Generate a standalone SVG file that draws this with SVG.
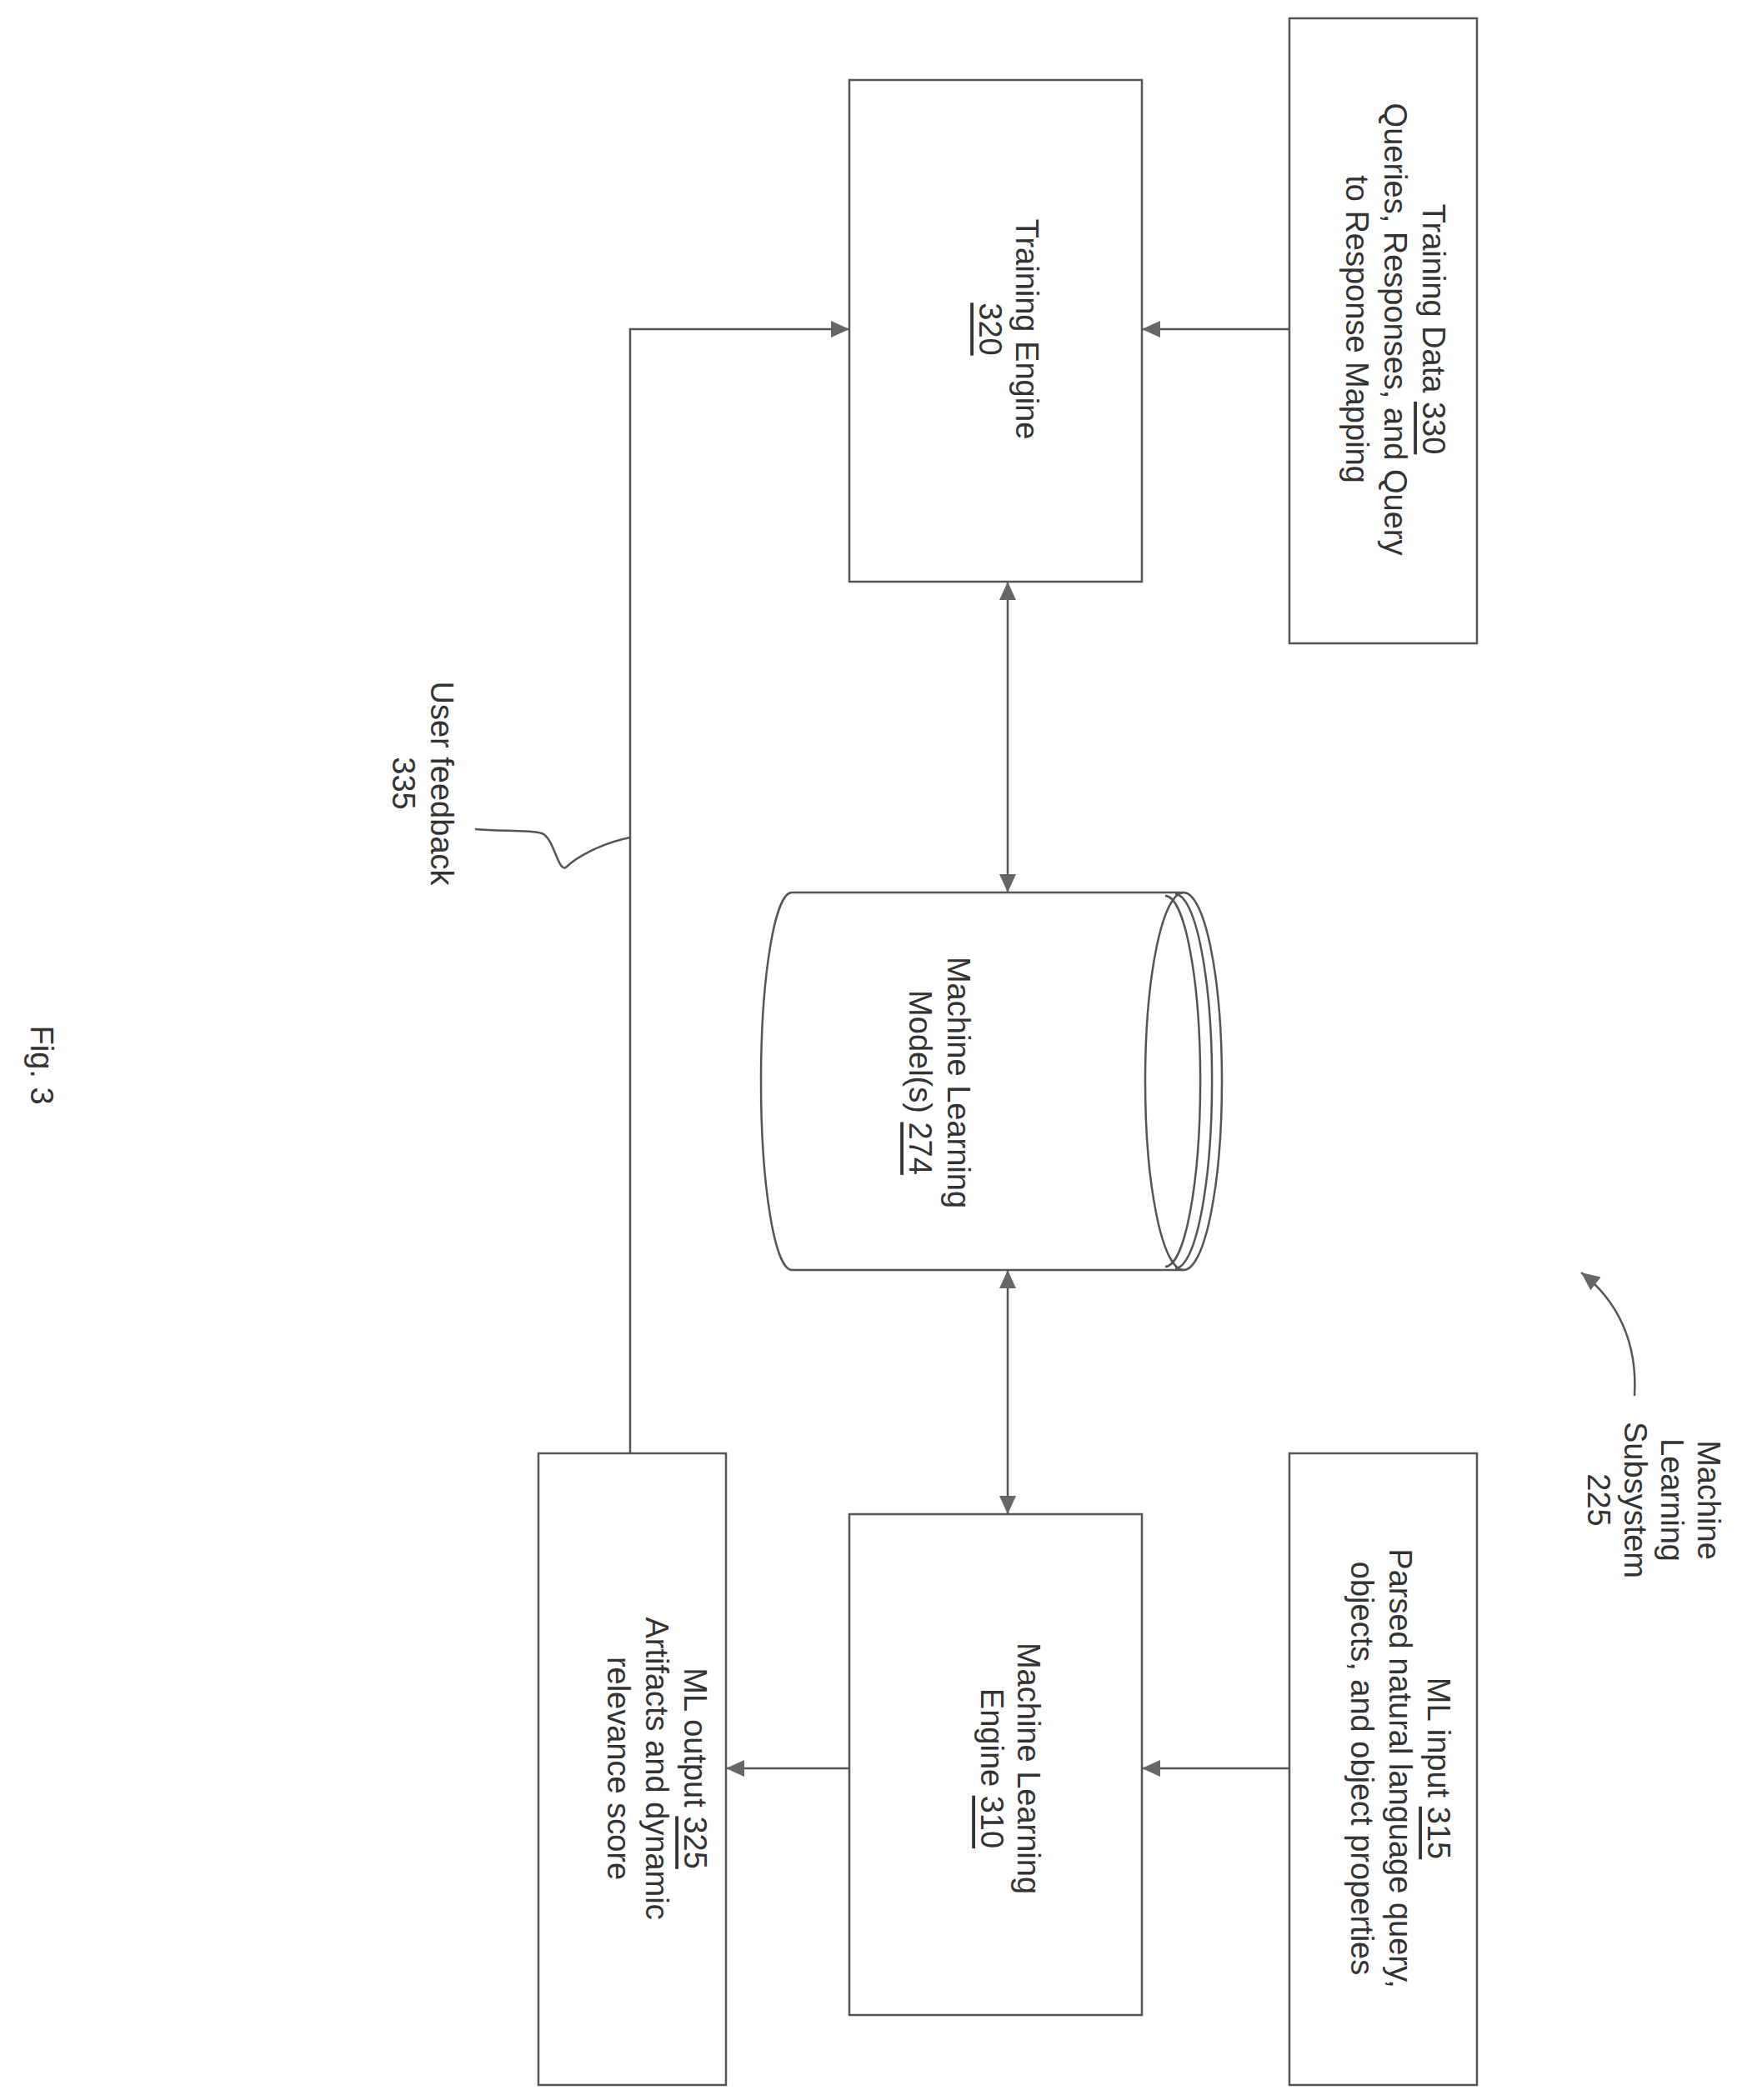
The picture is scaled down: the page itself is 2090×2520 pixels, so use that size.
<svg xmlns="http://www.w3.org/2000/svg" width="2090" height="2520" viewBox="0 0 2090 2520">
<style>
.b{fill:none;stroke:#555;stroke-width:2.5}
.c{fill:none;stroke:#555;stroke-width:2.5}
.t{font-family:"Liberation Sans",Arial,sans-serif;font-size:38px;fill:#333;text-anchor:middle;dominant-baseline:central}
.u{text-decoration:underline}
</style>
<defs>
<marker id="a" viewBox="0 0 10 10" refX="10" refY="5" markerWidth="10" markerHeight="10" markerUnits="userSpaceOnUse" orient="auto-start-reverse" overflow="visible">
<path d="M-12,-5 L10,5 L-12,15 Z" fill="#666"/>
</marker>
</defs>
<rect width="2090" height="2520" fill="#fff"/>
<g id="connectors">
<line class="c" x1="1547" y1="395" x2="1370" y2="395" marker-end="url(#a)"/>
<polyline class="c" points="756,1744 756,395 1019,395" marker-end="url(#a)"/>
<line class="c" x1="1209" y1="698" x2="1209" y2="1071" marker-start="url(#a)" marker-end="url(#a)"/>
<line class="c" x1="1209" y1="1524" x2="1209" y2="1817" marker-start="url(#a)" marker-end="url(#a)"/>
<line class="c" x1="1547" y1="2122" x2="1370" y2="2122" marker-end="url(#a)"/>
<line class="c" x1="1019" y1="2122" x2="871" y2="2122" marker-end="url(#a)"/>
<path class="c" d="M756,1005 C720,1012 690,1030 680,1040 C670,1050 665,1005 650,1000 C635,995 600,998 570,995"/>
<path class="c" d="M1961,1675 C1965,1610 1940,1560 1897,1527" marker-end="url(#a)"/>
</g>
<g id="training-data">
<rect class="b" x="1547" y="22" width="225" height="750"/>
<text class="t" transform="translate(1720,395) rotate(90)">Training Data <tspan class="u">330</tspan></text>
<text class="t" transform="translate(1674,395) rotate(90)">Queries, Responses, and Query</text>
<text class="t" transform="translate(1628,395) rotate(90)">to Response Mapping</text>
</g>
<g id="training-engine">
<rect class="b" x="1019" y="96" width="351" height="602"/>
<text class="t" transform="translate(1232,395) rotate(90)">Training Engine</text>
<text class="t" transform="translate(1188,395) rotate(90)"><tspan class="u">320</tspan></text>
</g>
<g id="ml-models">
<path class="b" d="M1420,1071 L950,1071 A37,226.5 0 0 0 950,1524 L1420,1524"/>
<ellipse class="b" cx="1420" cy="1297.5" rx="46" ry="226.5"/>
<path class="b" d="M1410,1073 A44,224 0 0 1 1410,1522"/>
<path class="b" d="M1398,1075 A42,222 0 0 1 1398,1520"/>
<text class="t" transform="translate(1150,1299) rotate(90)">Machine Learning</text>
<text class="t" transform="translate(1104,1299) rotate(90)">Model(s) <tspan class="u">274</tspan></text>
</g>
<g id="ml-engine">
<rect class="b" x="1019" y="1817" width="351" height="601"/>
<text class="t" transform="translate(1234,2122) rotate(90)">Machine Learning</text>
<text class="t" transform="translate(1190,2122) rotate(90)">Engine <tspan class="u">310</tspan></text>
</g>
<g id="ml-input">
<rect class="b" x="1547" y="1744" width="225" height="758"/>
<text class="t" transform="translate(1726,2122) rotate(90)">ML input <tspan class="u">315</tspan></text>
<text class="t" transform="translate(1680,2122) rotate(90)">Parsed natural language query,</text>
<text class="t" transform="translate(1634,2122) rotate(90)">objects, and object properties</text>
</g>
<g id="ml-output">
<rect class="b" x="646" y="1744" width="225" height="758"/>
<text class="t" transform="translate(834,2122) rotate(90)">ML output <tspan class="u">325</tspan></text>
<text class="t" transform="translate(788,2122) rotate(90)">Artifacts and dynamic</text>
<text class="t" transform="translate(742,2122) rotate(90)">relevance score</text>
</g>
<g id="user-feedback">
<text class="t" transform="translate(530,940) rotate(90)">User feedback</text>
<text class="t" transform="translate(484,940) rotate(90)">335</text>
</g>
<g id="ml-subsystem">
<text class="t" transform="translate(2050,1800) rotate(90)">Machine</text>
<text class="t" transform="translate(2006,1800) rotate(90)">Learning</text>
<text class="t" transform="translate(1962,1800) rotate(90)">Subsystem</text>
<text class="t" transform="translate(1918,1800) rotate(90)">225</text>
</g>
<text class="t" transform="translate(50,1278) rotate(90)">Fig. 3</text>
</svg>
